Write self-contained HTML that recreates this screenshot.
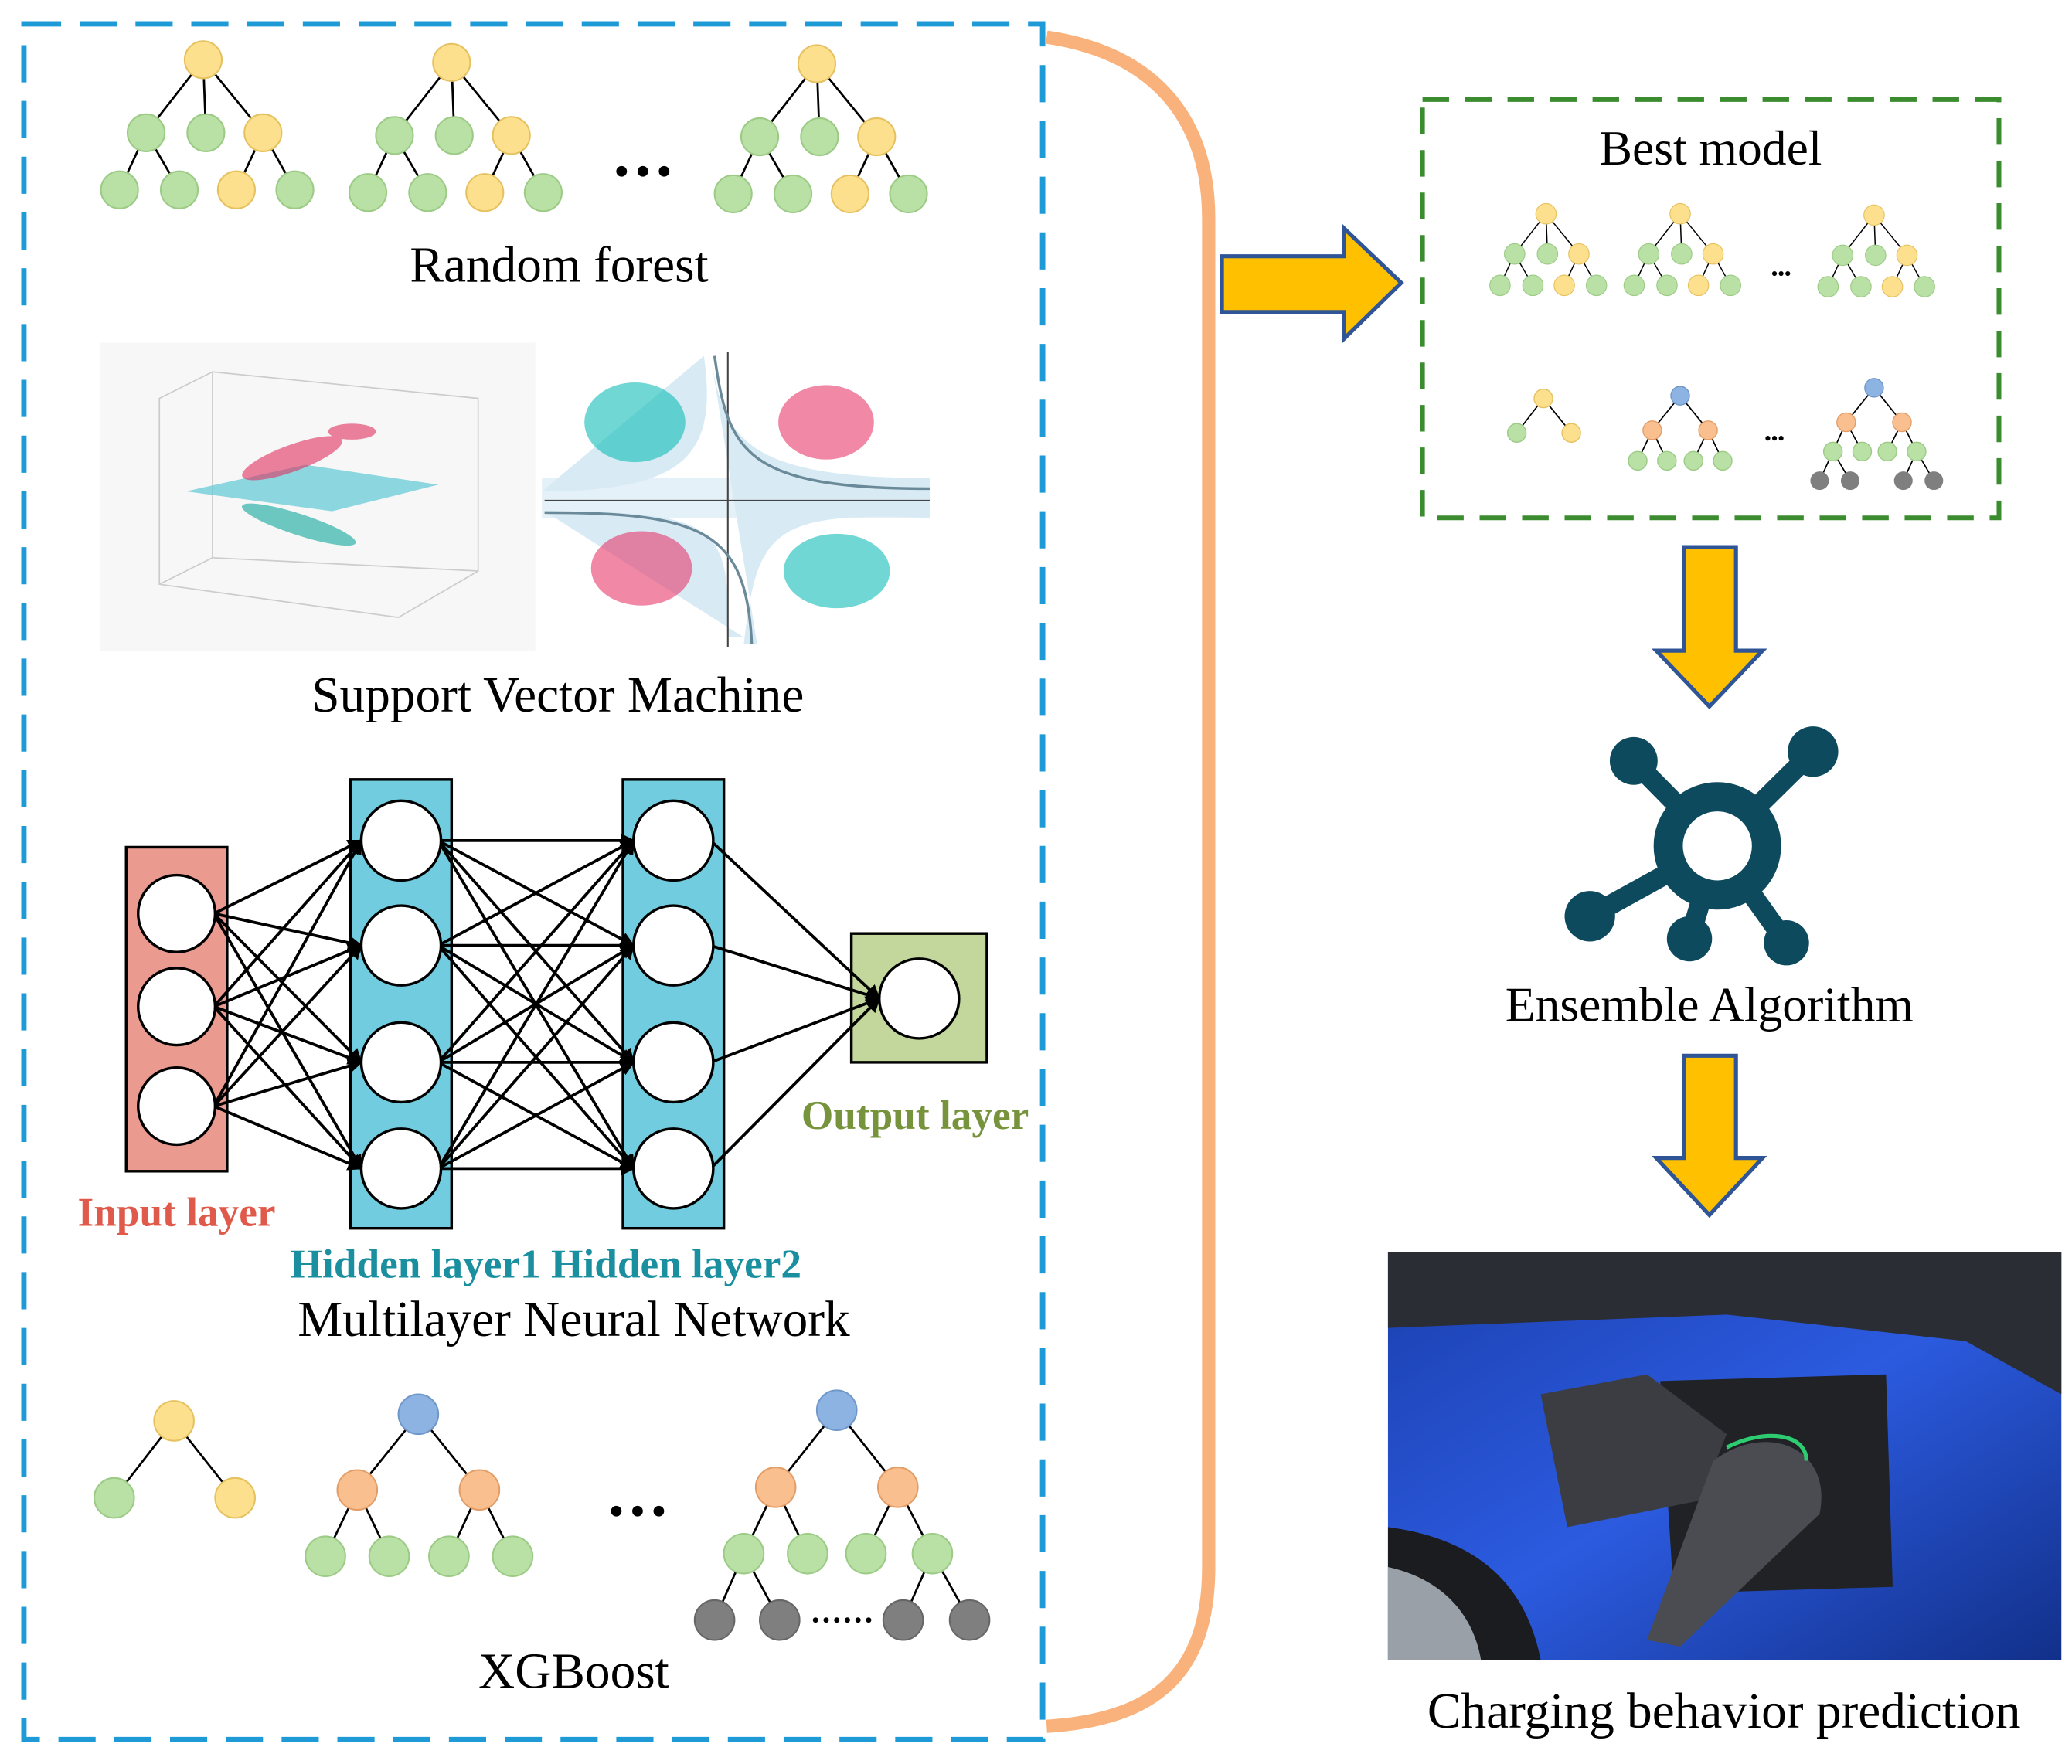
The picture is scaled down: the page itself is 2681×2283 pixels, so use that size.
<!DOCTYPE html>
<html><head><meta charset="utf-8"><style>html,body{margin:0;padding:0;background:#fff}svg{display:block}</style></head><body>
<svg width="2681" height="2283" viewBox="0 0 1560 1328.4" xmlns="http://www.w3.org/2000/svg" font-family="Liberation Serif, serif">
<defs>
<marker id="ah" viewBox="0 0 10 10" refX="9" refY="5" markerWidth="5" markerHeight="5" orient="auto"><path d="M0 0 L10 5 L0 10 Z" fill="#000"/></marker>
<g id="rf">
<g stroke="#000" stroke-width="1.6">
<line x1="0" y1="0" x2="-43" y2="55"/><line x1="0" y1="0" x2="2" y2="55"/><line x1="0" y1="0" x2="45" y2="55"/>
<line x1="-43" y1="55" x2="-63" y2="98"/><line x1="-43" y1="55" x2="-18" y2="98"/>
<line x1="45" y1="55" x2="25" y2="98"/><line x1="45" y1="55" x2="69" y2="98"/>
</g>
<g stroke-width="1.2">
<circle cx="0" cy="0" r="14" fill="#FDE08D" stroke="#E6C15F"/>
<circle cx="-43" cy="55" r="14" fill="#B9E0A5" stroke="#9CCB86"/>
<circle cx="2" cy="55" r="14" fill="#B9E0A5" stroke="#9CCB86"/>
<circle cx="45" cy="55" r="14" fill="#FDE08D" stroke="#E6C15F"/>
<circle cx="-63" cy="98" r="14" fill="#B9E0A5" stroke="#9CCB86"/>
<circle cx="-18" cy="98" r="14" fill="#B9E0A5" stroke="#9CCB86"/>
<circle cx="25" cy="98" r="14" fill="#FDE08D" stroke="#E6C15F"/>
<circle cx="69" cy="98" r="14" fill="#B9E0A5" stroke="#9CCB86"/>
</g>
</g>
</defs>
<rect x="0" y="0" width="1560" height="1329" fill="#fff"/>
<rect x="18" y="18" width="767" height="1292" fill="none" stroke="#1E9BD7" stroke-width="4" stroke-dasharray="28 14"/>
<path d="M788 28 C870 40 910 90 910 165 L910 1180 C910 1260 870 1295 788 1300" fill="none" stroke="#F9B27C" stroke-width="10"/>
<use href="#rf" x="153" y="45"/>
<use href="#rf" x="340" y="47"/>
<use href="#rf" x="615" y="48"/>
<g fill="#000"><circle cx="468" cy="129" r="4"/><circle cx="484" cy="129" r="4"/><circle cx="500" cy="129" r="4"/></g>
<text x="421" y="212" font-size="38" text-anchor="middle">Random forest</text>
<rect x="75" y="258" width="328" height="232" fill="#f7f7f8"/>
<g stroke="#ccc" stroke-width="1" fill="none">
<path d="M120 440 L300 465 L360 430 L360 300 L160 280 L120 300 Z"/>
<line x1="160" y1="280" x2="160" y2="420"/><line x1="160" y1="420" x2="360" y2="430"/><line x1="160" y1="420" x2="120" y2="440"/>
</g>
<polygon points="140,370 230,350 330,365 250,385" fill="#5ec9d4" opacity="0.7"/>
<g fill="#e0315f" opacity="0.6"><ellipse cx="220" cy="345" rx="40" ry="10" transform="rotate(-20 220 345)"/><ellipse cx="265" cy="325" rx="18" ry="6"/></g>
<g fill="#0fa89c" opacity="0.6"><ellipse cx="225" cy="395" rx="45" ry="8" transform="rotate(18 225 395)"/></g>
<rect x="408" y="265" width="292" height="222" fill="#fff"/>
<path d="M535 268 C545 330 560 360 700 360 L700 390 C580 385 570 400 560 485 L570 485 M410 385 C540 385 550 395 548 480 L560 480 M408 370 C520 370 540 340 530 268" fill="#d8ebf5"/>
<rect x="408" y="360" width="292" height="30" fill="#d8ebf5" opacity="0.7"/>
<line x1="410" y1="377" x2="700" y2="377" stroke="#444" stroke-width="1.2"/>
<line x1="548" y1="265" x2="548" y2="487" stroke="#444" stroke-width="1.2"/>
<path d="M538 268 C548 340 560 368 700 368 M410 386 C530 386 562 400 566 485" fill="none" stroke="#6b8a99" stroke-width="2"/>
<g opacity="0.6">
<ellipse cx="478" cy="318" rx="38" ry="30" fill="#10bdb8"/>
<ellipse cx="622" cy="318" rx="36" ry="28" fill="#e6386a"/>
<ellipse cx="483" cy="428" rx="38" ry="28" fill="#e6386a"/>
<ellipse cx="630" cy="430" rx="40" ry="28" fill="#10bdb8"/>
</g>
<text x="420" y="536" font-size="38" text-anchor="middle">Support Vector Machine</text>
<rect x="95" y="638" width="76" height="244" fill="#EA9A8F" stroke="#000" stroke-width="2"/>
<rect x="264" y="587" width="76" height="338" fill="#70CCDE" stroke="#000" stroke-width="2"/>
<rect x="469" y="587" width="76" height="338" fill="#70CCDE" stroke="#000" stroke-width="2"/>
<rect x="641" y="703" width="102" height="97" fill="#C3D69B" stroke="#000" stroke-width="2"/>
<g stroke="#000" stroke-width="2.2" marker-end="url(#ah)">
<line x1="161" y1="688" x2="272" y2="633"/><line x1="161" y1="688" x2="272" y2="712"/><line x1="161" y1="688" x2="272" y2="800"/><line x1="161" y1="688" x2="272" y2="880"/>
<line x1="161" y1="758" x2="272" y2="633"/><line x1="161" y1="758" x2="272" y2="712"/><line x1="161" y1="758" x2="272" y2="800"/><line x1="161" y1="758" x2="272" y2="880"/>
<line x1="161" y1="833" x2="272" y2="633"/><line x1="161" y1="833" x2="272" y2="712"/><line x1="161" y1="833" x2="272" y2="800"/><line x1="161" y1="833" x2="272" y2="880"/>
<line x1="330" y1="633" x2="477" y2="633"/><line x1="330" y1="633" x2="477" y2="712"/><line x1="330" y1="633" x2="477" y2="800"/><line x1="330" y1="633" x2="477" y2="880"/>
<line x1="330" y1="712" x2="477" y2="633"/><line x1="330" y1="712" x2="477" y2="712"/><line x1="330" y1="712" x2="477" y2="800"/><line x1="330" y1="712" x2="477" y2="880"/>
<line x1="330" y1="800" x2="477" y2="633"/><line x1="330" y1="800" x2="477" y2="712"/><line x1="330" y1="800" x2="477" y2="800"/><line x1="330" y1="800" x2="477" y2="880"/>
<line x1="330" y1="880" x2="477" y2="633"/><line x1="330" y1="880" x2="477" y2="712"/><line x1="330" y1="880" x2="477" y2="800"/><line x1="330" y1="880" x2="477" y2="880"/>
<line x1="535" y1="633" x2="662" y2="752"/><line x1="535" y1="712" x2="662" y2="752"/><line x1="535" y1="800" x2="662" y2="752"/><line x1="535" y1="880" x2="662" y2="752"/>
</g>
<g fill="#fff" stroke="#000" stroke-width="2">
<circle cx="133" cy="688" r="29"/><circle cx="133" cy="758" r="29"/><circle cx="133" cy="833" r="29"/>
<circle cx="302" cy="633" r="30"/><circle cx="302" cy="712" r="30"/><circle cx="302" cy="800" r="30"/><circle cx="302" cy="880" r="30"/>
<circle cx="507" cy="633" r="30"/><circle cx="507" cy="712" r="30"/><circle cx="507" cy="800" r="30"/><circle cx="507" cy="880" r="30"/>
<circle cx="692" cy="752" r="30"/>
</g>
<text x="133" y="923" font-size="31" font-weight="bold" fill="#E05A4B" text-anchor="middle">Input layer</text>
<text x="411" y="962" font-size="31" font-weight="bold" fill="#1A8FA0" text-anchor="middle">Hidden layer1 Hidden layer2</text>
<text x="689" y="850" font-size="31" font-weight="bold" fill="#77933C" text-anchor="middle">Output layer</text>
<text x="432" y="1006" font-size="38" text-anchor="middle">Multilayer Neural Network</text>
<g stroke="#000" stroke-width="1.6">
<line x1="131" y1="1070" x2="86" y2="1128"/><line x1="131" y1="1070" x2="177" y2="1128"/>
<line x1="315" y1="1065" x2="269" y2="1122"/><line x1="315" y1="1065" x2="361" y2="1122"/>
<line x1="269" y1="1122" x2="245" y2="1172"/><line x1="269" y1="1122" x2="293" y2="1172"/><line x1="361" y1="1122" x2="338" y2="1172"/><line x1="361" y1="1122" x2="386" y2="1172"/>
<line x1="630" y1="1062" x2="584" y2="1120"/><line x1="630" y1="1062" x2="676" y2="1120"/>
<line x1="584" y1="1120" x2="560" y2="1170"/><line x1="584" y1="1120" x2="608" y2="1170"/><line x1="676" y1="1120" x2="652" y2="1170"/><line x1="676" y1="1120" x2="702" y2="1170"/>
<line x1="560" y1="1170" x2="538" y2="1220"/><line x1="560" y1="1170" x2="587" y2="1220"/><line x1="702" y1="1170" x2="680" y2="1220"/><line x1="702" y1="1170" x2="730" y2="1220"/>
</g>
<g stroke-width="1.2">
<circle cx="131" cy="1070" r="15" fill="#FDE08D" stroke="#E6C15F"/>
<circle cx="86" cy="1128" r="15" fill="#B9E0A5" stroke="#9CCB86"/><circle cx="177" cy="1128" r="15" fill="#FDE08D" stroke="#E6C15F"/>
<circle cx="315" cy="1065" r="15" fill="#8DB3E2" stroke="#6F97C9"/>
<circle cx="269" cy="1122" r="15" fill="#FABF8F" stroke="#E39E68"/><circle cx="361" cy="1122" r="15" fill="#FABF8F" stroke="#E39E68"/>
<circle cx="245" cy="1172" r="15" fill="#B9E0A5" stroke="#9CCB86"/><circle cx="293" cy="1172" r="15" fill="#B9E0A5" stroke="#9CCB86"/><circle cx="338" cy="1172" r="15" fill="#B9E0A5" stroke="#9CCB86"/><circle cx="386" cy="1172" r="15" fill="#B9E0A5" stroke="#9CCB86"/>
<circle cx="630" cy="1062" r="15" fill="#8DB3E2" stroke="#6F97C9"/>
<circle cx="584" cy="1120" r="15" fill="#FABF8F" stroke="#E39E68"/><circle cx="676" cy="1120" r="15" fill="#FABF8F" stroke="#E39E68"/>
<circle cx="560" cy="1170" r="15" fill="#B9E0A5" stroke="#9CCB86"/><circle cx="608" cy="1170" r="15" fill="#B9E0A5" stroke="#9CCB86"/><circle cx="652" cy="1170" r="15" fill="#B9E0A5" stroke="#9CCB86"/><circle cx="702" cy="1170" r="15" fill="#B9E0A5" stroke="#9CCB86"/>
<circle cx="538" cy="1220" r="15" fill="#7F7F7F" stroke="#666"/><circle cx="587" cy="1220" r="15" fill="#7F7F7F" stroke="#666"/><circle cx="680" cy="1220" r="15" fill="#7F7F7F" stroke="#666"/><circle cx="730" cy="1220" r="15" fill="#7F7F7F" stroke="#666"/>
</g>
<g fill="#000"><circle cx="464" cy="1138" r="4"/><circle cx="480" cy="1138" r="4"/><circle cx="496" cy="1138" r="4"/>
<circle cx="614" cy="1220" r="2"/><circle cx="622" cy="1220" r="2"/><circle cx="630" cy="1220" r="2"/><circle cx="638" cy="1220" r="2"/><circle cx="646" cy="1220" r="2"/><circle cx="654" cy="1220" r="2"/></g>
<text x="432" y="1271" font-size="38" text-anchor="middle">XGBoost</text>
<polygon points="920,193 1012,193 1012,172 1055,213 1012,255 1012,235 920,235" fill="#FFC000" stroke="#2F5597" stroke-width="3"/>
<polygon points="1268,412 1307,412 1307,490 1327,490 1287,532 1247,490 1268,490" fill="#FFC000" stroke="#2F5597" stroke-width="3"/>
<polygon points="1268,795 1307,795 1307,872 1327,872 1287,915 1247,872 1268,872" fill="#FFC000" stroke="#2F5597" stroke-width="3"/>
<rect x="1071" y="75" width="434" height="315" fill="none" stroke="#3A8C2E" stroke-width="3.5" stroke-dasharray="20 12"/>
<text x="1288" y="124" font-size="37" text-anchor="middle">Best model</text>
<use href="#rf" transform="translate(1164 161) scale(0.55)"/>
<use href="#rf" transform="translate(1265 161) scale(0.55)"/>
<use href="#rf" transform="translate(1411 162) scale(0.55)"/>
<g fill="#000"><circle cx="1336" cy="206" r="1.8"/><circle cx="1341" cy="206" r="1.8"/><circle cx="1346" cy="206" r="1.8"/>
<circle cx="1331" cy="330" r="1.8"/><circle cx="1336" cy="330" r="1.8"/><circle cx="1341" cy="330" r="1.8"/></g>
<g stroke="#000" stroke-width="1">
<line x1="1162" y1="300" x2="1142" y2="326"/><line x1="1162" y1="300" x2="1183" y2="326"/>
<line x1="1265" y1="298" x2="1244" y2="324"/><line x1="1265" y1="298" x2="1286" y2="324"/>
<line x1="1244" y1="324" x2="1233" y2="347"/><line x1="1244" y1="324" x2="1255" y2="347"/><line x1="1286" y1="324" x2="1275" y2="347"/><line x1="1286" y1="324" x2="1297" y2="347"/>
<line x1="1411" y1="292" x2="1390" y2="318"/><line x1="1411" y1="292" x2="1432" y2="318"/>
<line x1="1390" y1="318" x2="1380" y2="340"/><line x1="1390" y1="318" x2="1402" y2="340"/><line x1="1432" y1="318" x2="1421" y2="340"/><line x1="1432" y1="318" x2="1443" y2="340"/>
<line x1="1380" y1="340" x2="1370" y2="362"/><line x1="1380" y1="340" x2="1393" y2="362"/><line x1="1443" y1="340" x2="1433" y2="362"/><line x1="1443" y1="340" x2="1456" y2="362"/>
</g>
<g stroke-width="0.8">
<circle cx="1162" cy="300" r="7" fill="#FDE08D" stroke="#E6C15F"/><circle cx="1142" cy="326" r="7" fill="#B9E0A5" stroke="#9CCB86"/><circle cx="1183" cy="326" r="7" fill="#FDE08D" stroke="#E6C15F"/>
<circle cx="1265" cy="298" r="7" fill="#8DB3E2" stroke="#6F97C9"/><circle cx="1244" cy="324" r="7" fill="#FABF8F" stroke="#E39E68"/><circle cx="1286" cy="324" r="7" fill="#FABF8F" stroke="#E39E68"/>
<circle cx="1233" cy="347" r="7" fill="#B9E0A5" stroke="#9CCB86"/><circle cx="1255" cy="347" r="7" fill="#B9E0A5" stroke="#9CCB86"/><circle cx="1275" cy="347" r="7" fill="#B9E0A5" stroke="#9CCB86"/><circle cx="1297" cy="347" r="7" fill="#B9E0A5" stroke="#9CCB86"/>
<circle cx="1411" cy="292" r="7" fill="#8DB3E2" stroke="#6F97C9"/><circle cx="1390" cy="318" r="7" fill="#FABF8F" stroke="#E39E68"/><circle cx="1432" cy="318" r="7" fill="#FABF8F" stroke="#E39E68"/>
<circle cx="1380" cy="340" r="7" fill="#B9E0A5" stroke="#9CCB86"/><circle cx="1402" cy="340" r="7" fill="#B9E0A5" stroke="#9CCB86"/><circle cx="1421" cy="340" r="7" fill="#B9E0A5" stroke="#9CCB86"/><circle cx="1443" cy="340" r="7" fill="#B9E0A5" stroke="#9CCB86"/>
<circle cx="1370" cy="362" r="7" fill="#7F7F7F"/><circle cx="1393" cy="362" r="7" fill="#7F7F7F"/><circle cx="1433" cy="362" r="7" fill="#7F7F7F"/><circle cx="1456" cy="362" r="7" fill="#7F7F7F"/>
</g>
<g stroke="#0E4A5E" stroke-width="15" stroke-linecap="round">
<line x1="1293" y1="637" x2="1365" y2="566"/><line x1="1293" y1="637" x2="1230" y2="573"/>
<line x1="1293" y1="637" x2="1197" y2="690"/><line x1="1293" y1="637" x2="1272" y2="707"/><line x1="1293" y1="637" x2="1345" y2="710"/>
</g>
<circle cx="1293" cy="637" r="37" fill="#fff" stroke="#0E4A5E" stroke-width="22"/>
<g fill="#0E4A5E"><circle cx="1365" cy="566" r="19"/><circle cx="1230" cy="573" r="18"/><circle cx="1197" cy="690" r="19"/><circle cx="1272" cy="707" r="17"/><circle cx="1345" cy="710" r="17"/></g>
<text x="1287" y="769" font-size="37" text-anchor="middle">Ensemble Algorithm</text>
<defs>
<linearGradient id="car" x1="0" y1="0" x2="1" y2="1"><stop offset="0" stop-color="#1b3fae"/><stop offset="0.5" stop-color="#2c5be0"/><stop offset="1" stop-color="#12308a"/></linearGradient>
</defs>
<rect x="1045" y="943" width="507" height="307" fill="url(#car)"/>
<polygon points="1045,943 1552,943 1552,1050 1480,1010 1300,990 1045,1000" fill="#2a2d33"/>
<path d="M1045 1150 C1120 1160 1150 1200 1160 1250 L1045 1250 Z" fill="#1a1c20"/>
<path d="M1045 1180 C1090 1190 1110 1220 1115 1250 L1045 1250 Z" fill="#9aa0a8"/>
<path d="M1250 1040 L1420 1035 L1425 1195 L1260 1200 Z" fill="#202226"/>
<path d="M1160 1050 L1240 1035 L1300 1080 L1280 1130 L1180 1150 Z" fill="#3b3d42"/>
<path d="M1290 1100 C1330 1070 1380 1090 1370 1140 L1265 1240 L1240 1235 Z" fill="#4a4c52"/>
<path d="M1300 1090 C1330 1075 1360 1080 1360 1100" fill="none" stroke="#2ecc71" stroke-width="3"/>
<text x="1298" y="1301" font-size="38" text-anchor="middle">Charging behavior prediction</text>
</svg>
</body></html>
